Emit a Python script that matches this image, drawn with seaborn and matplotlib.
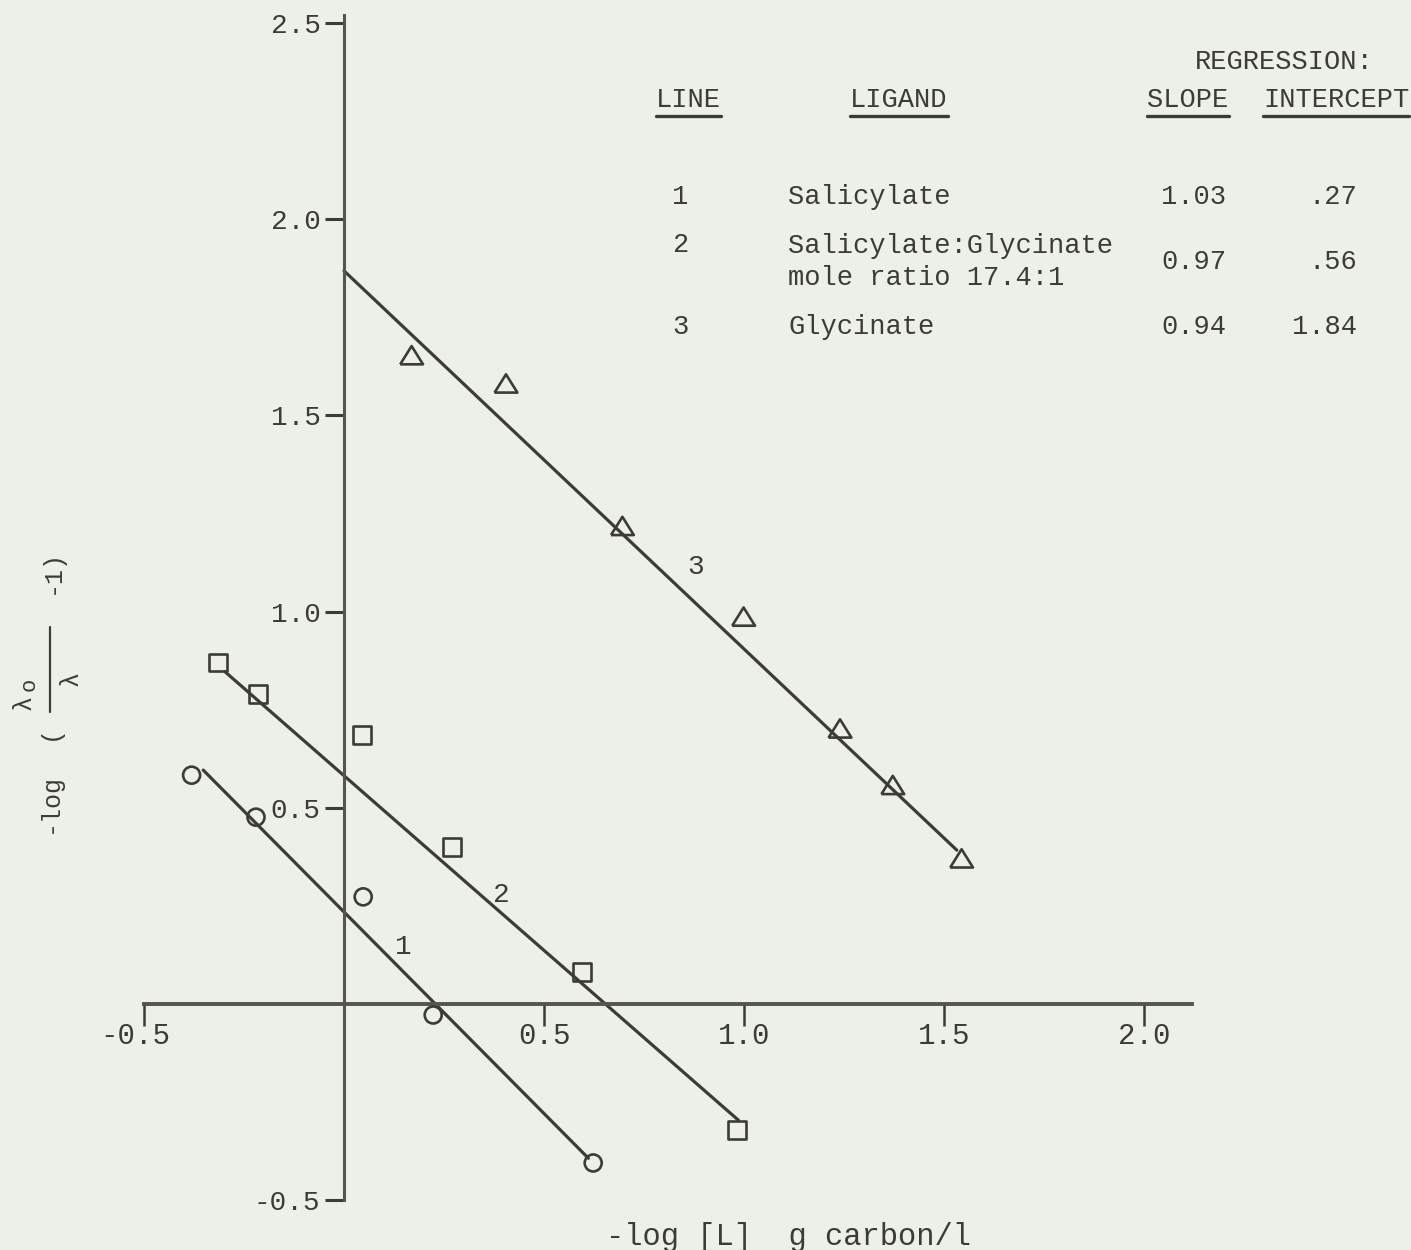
import numpy as np
import pandas as pd
import matplotlib
matplotlib.use("Agg")
import matplotlib.pyplot as plt
from matplotlib.lines import Line2D
import matplotlib.transforms as mtransforms
import seaborn as sns

# ---------------- data ----------------
# Line 1: salicylate (open circles)
line1_x = [-0.381, -0.220, 0.048, 0.223, 0.623]
line1_y = [0.583, 0.476, 0.273, -0.028, -0.405]
# Line 2: salicylate:glycinate 17.4:1 (open squares)
line2_x = [-0.314, -0.214, 0.044, 0.271, 0.594, 0.983]
line2_y = [0.870, 0.789, 0.685, 0.400, 0.082, -0.321]
# Line 3: glycinate (open triangles)
line3_x = [0.169, 0.405, 0.696, 0.999, 1.240, 1.372, 1.544]
line3_y = [1.653, 1.581, 1.218, 0.987, 0.702, 0.558, 0.371]

# drawn regression lines (end points)
fit1_x = [-0.352, 0.611]
fit1_y = [0.596, -0.393]
fit2_x = [-0.298, 0.986]
fit2_y = [0.847, -0.296]
fit3_x = [0.0, 1.532]
fit3_y = [1.868, 0.392]

# line number labels on the plot
line_label_text = ["1", "2", "3"]
line_label_x = [0.148, 0.394, 0.878]
line_label_y = [0.144, 0.278, 1.114]

# axis ticks
xticks = [-0.5, 0.5, 1.0, 1.5, 2.0]
xtick_labels = ["-0.5", "0.5", "1.0", "1.5", "2.0"]
yticks = [-0.5, 0.5, 1.0, 1.5, 2.0, 2.5]
ytick_labels = ["-0.5", "0.5", "1.0", "1.5", "2.0", "2.5"]

# table
table_line = ["1", "2", "3"]
table_ligand = ["Salicylate", "Salicylate:Glycinate\nmole ratio 17.4:1", "Glycinate"]
table_slope = [1.03, 0.97, 0.94]
table_intercept = [0.27, 0.56, 1.84]

xlabel_text = "-log [L]  g carbon/l"

# ---------------- style ----------------
W, H = 1411, 1250
DPI = 100
BG = "#edf0e9"
INK = "#3b3b38"
AXINK = "#55554f"
FONT = ["Liberation Mono", "DejaVu Sans Mono"]

sns.set_style("white")
plt.rcParams["font.family"] = FONT
plt.rcParams["text.color"] = INK

fig = plt.figure(figsize=(W / DPI, H / DPI), dpi=DPI, facecolor=BG)
ax = fig.add_axes([0, 0, 1, 1])
ax.set_facecolor("none")

# pixel mapping of the reference: x=0 at px 344 (400 px/unit), y=0 at px 1004 (392.5 px/unit)
ax.set_xlim((0 - 344) / 400, (W - 344) / 400)
ax.set_ylim((1004 - H) / 392.5, 1004 / 392.5)


def fxp(px):
    return px / W


def fyp(py):
    return 1 - py / H


# regression lines
for fx_, fy_ in [(fit1_x, fit1_y), (fit2_x, fit2_y), (fit3_x, fit3_y)]:
    sns.lineplot(x=fx_, y=fy_, ax=ax, color=INK, linewidth=2.3, sort=False,
                 estimator=None, legend=False)

tri = [(-1.0, -0.8), (1.0, -0.8), (0.0, 0.8), (-1.0, -0.8)]
sns.scatterplot(x=line1_x, y=line1_y, ax=ax, marker="o", s=150, color=INK,
                facecolors="none", edgecolor=INK, linewidth=1.9, zorder=3)
sns.scatterplot(x=line2_x, y=line2_y, ax=ax, marker="s", s=165, color=INK,
                facecolors="none", edgecolor=INK, linewidth=1.9, zorder=3)
sns.scatterplot(x=line3_x, y=line3_y, ax=ax, marker=tri, s=270, color=INK,
                facecolors="none", edgecolor=INK, linewidth=1.9, zorder=3)

for t, x, y in zip(line_label_text, line_label_x, line_label_y):
    ax.text(x, y, t, fontsize=20, color=INK, ha="center", va="center")

# axes through the origin
for side in ["top", "right"]:
    ax.spines[side].set_visible(False)
ax.spines["left"].set_position(("data", 0))
ax.spines["bottom"].set_position(("data", 0))
ax.spines["left"].set_bounds(-0.5, 2.52)
ax.spines["bottom"].set_bounds(-0.5, 2.12)
ax.spines["left"].set_linewidth(2.2)
ax.spines["bottom"].set_linewidth(2.8)
ax.spines["left"].set_color(AXINK)
ax.spines["bottom"].set_color(AXINK)

ax.set_xticks(xticks)
ax.set_xticklabels(xtick_labels)
ax.set_yticks(yticks)
ax.set_yticklabels(ytick_labels)
ax.tick_params(axis="y", which="major", left=True, right=False, direction="out",
               length=14, width=2.2, pad=3, labelsize=20, colors=INK)
ax.tick_params(axis="x", which="major", bottom=True, top=False, direction="out",
               length=16, width=1.8, pad=-3, labelsize=21, colors=INK)
# in the reference the dot of each x label sits on its tick
for lab in ax.get_xticklabels():
    txt = lab.get_text()
    if "." in txt:
        k = txt.index(".")
        shift_chars = (len(txt) / 2.0) - (k + 0.5)
        off = mtransforms.ScaledTranslation(shift_chars * 0.6 * 21 / 72, 0, fig.dpi_scale_trans)
        lab.set_transform(lab.get_transform() + off)

ax.set_xlabel(xlabel_text, fontsize=22, color=INK)
ax.xaxis.set_label_coords(fxp(788), fyp(1237))
ax.xaxis.label.set_va("center")
ax.set_ylabel("")

# y-axis label built from pieces: -log ( λo / λ  -1)
ylab_kw = dict(rotation=90, ha="center", va="center", color=INK)
fig.text(fxp(50), fyp(803), "-log", fontsize=18, **ylab_kw)
fig.text(fxp(50), fyp(733), "(", fontsize=18, **ylab_kw)
fig.text(fxp(24), fyp(702), "λ", fontsize=18, **ylab_kw)
fig.text(fxp(29), fyp(684), "o", fontsize=16, **ylab_kw)
fig.text(fxp(71), fyp(678), "λ", fontsize=18, **ylab_kw)
fig.text(fxp(52), fyp(572), "-1)", fontsize=18, **ylab_kw)
fig.add_artist(Line2D([fxp(50), fxp(50)], [fyp(627), fyp(712)], color=INK,
                      linewidth=1.6, transform=fig.transFigure))

# ---------------- table ----------------
tsize = 19.5
fig.text(fxp(1284), fyp(62), "REGRESSION:", fontsize=tsize, ha="center", va="center")
headers = [("LINE", 688), ("LIGAND", 899), ("SLOPE", 1188), ("INTERCEPT", 1336)]
header_texts = []
for name, cx in headers:
    header_texts.append(fig.text(fxp(cx), fyp(100), name, fontsize=tsize,
                                 ha="center", va="center"))

row_y = [197, 262, 327]
for i in range(3):
    ny = row_y[i] - (17 if "\n" in table_ligand[i] else 0)
    fig.text(fxp(680), fyp(ny), table_line[i], fontsize=tsize, ha="center", va="center")
    fig.text(fxp(788), fyp(row_y[i]), table_ligand[i], fontsize=tsize, ha="left",
             va="center", linespacing=1.3)
    fig.text(fxp(1226), fyp(row_y[i]), f"{table_slope[i]:.2f}", fontsize=tsize,
             ha="right", va="center")
    ic = f"{table_intercept[i]:.2f}"
    if ic.startswith("0"):
        ic = ic[1:]
    fig.text(fxp(1357), fyp(row_y[i]), ic, fontsize=tsize, ha="right", va="center")

fig.canvas.draw()
renderer = fig.canvas.get_renderer()
for t in header_texts:
    bb = t.get_window_extent(renderer)
    yline = fyp(116)
    fig.add_artist(Line2D([bb.x0 / W, bb.x1 / W], [yline, yline], color=INK,
                          linewidth=2.4, transform=fig.transFigure))

fig.savefig("out.png", dpi=DPI, facecolor=BG)
